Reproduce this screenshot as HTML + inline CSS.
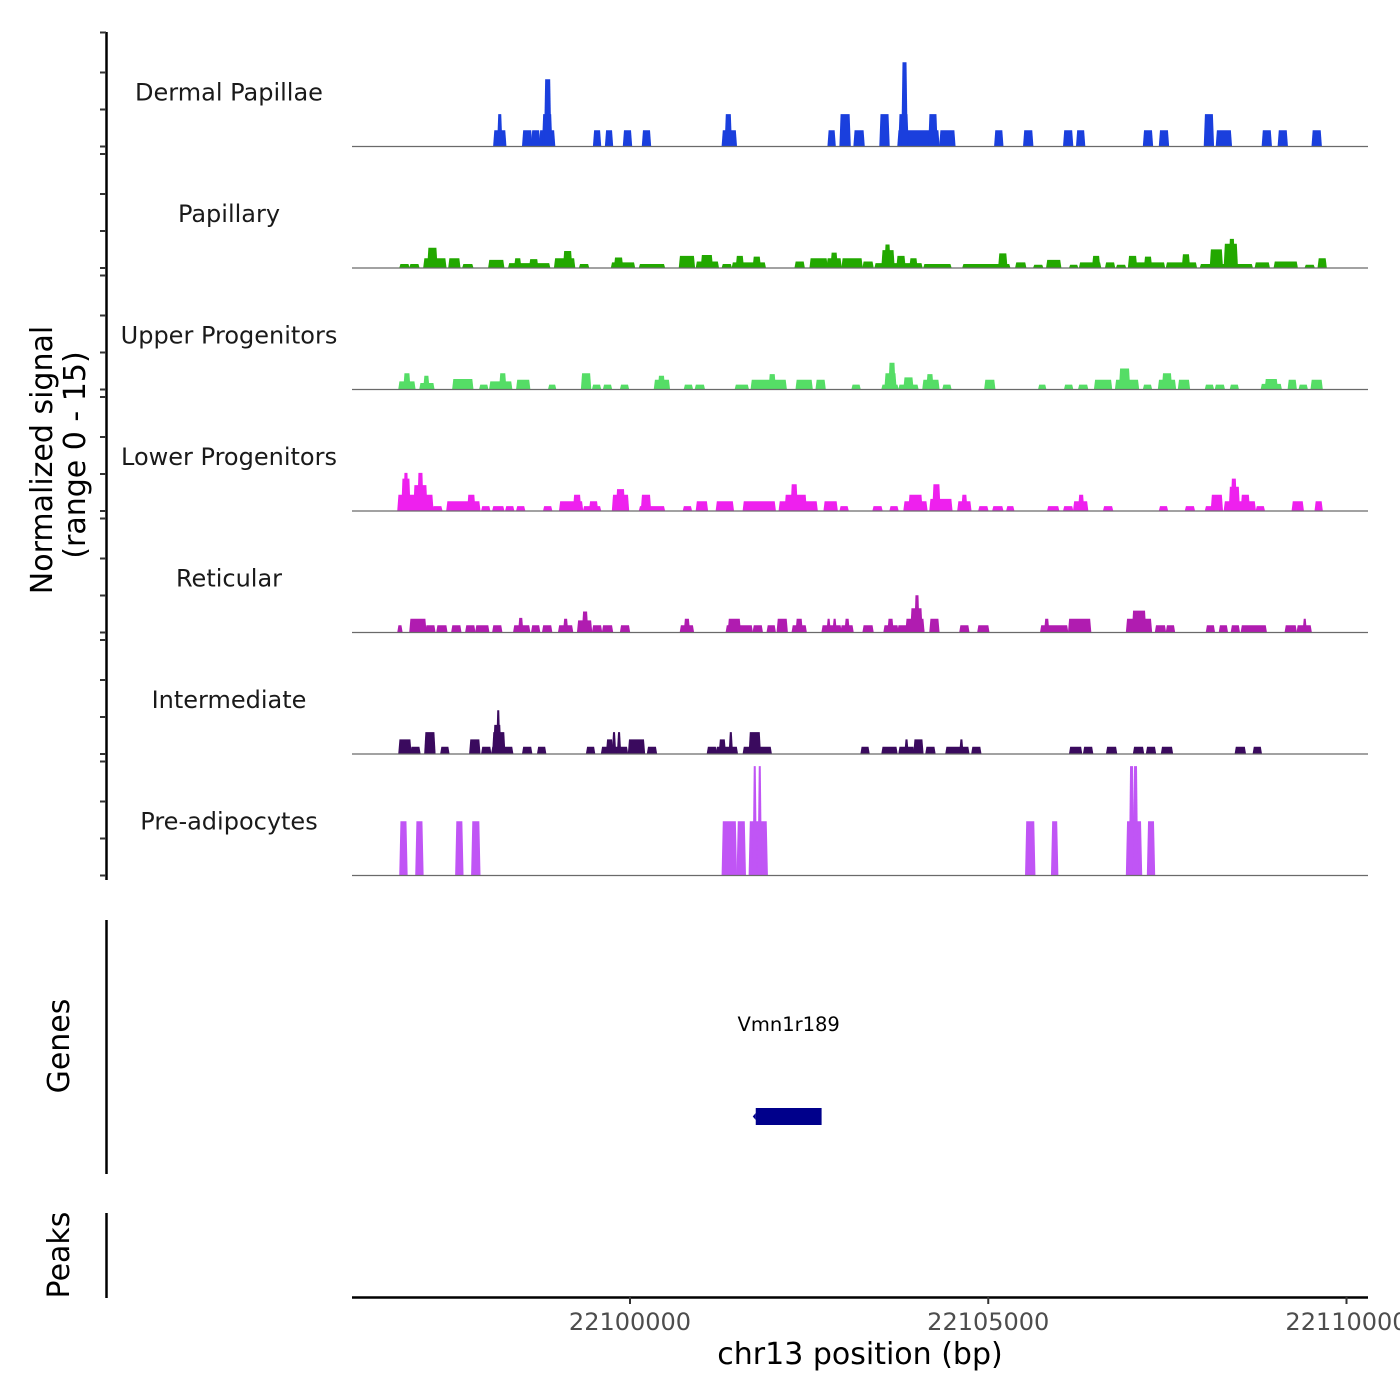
<!DOCTYPE html>
<html><head><meta charset="utf-8"><style>
html,body{margin:0;padding:0;background:#fff;}
svg{display:block;font-family:"DejaVu Sans","Liberation Sans",sans-serif;}
</style></head><body>
<svg id="chart" width="1400" height="1400" viewBox="0 0 1400 1400" xmlns="http://www.w3.org/2000/svg">
<g id="tracks"></g>
<g id="axes">
 <text transform="translate(52,460) rotate(-90)" text-anchor="middle" font-size="30" fill="#000">Normalized signal</text>
 <text transform="translate(85,455) rotate(-90)" text-anchor="middle" font-size="30" fill="#000">(range 0 - 15)</text>
 <line x1="106.5" y1="920" x2="106.5" y2="1174" stroke="#000" stroke-width="2.5"/>
 <text transform="translate(69,1046) rotate(-90)" text-anchor="middle" font-size="30" fill="#000">Genes</text>
 <line x1="106.5" y1="1213" x2="106.5" y2="1298" stroke="#000" stroke-width="2.5"/>
 <text transform="translate(69,1255) rotate(-90)" text-anchor="middle" font-size="30" fill="#000">Peaks</text>
 <line x1="352" y1="1297.5" x2="1368" y2="1297.5" stroke="#000" stroke-width="2.5"/>
 <text x="860" y="1364" text-anchor="middle" font-size="30" fill="#000">chr13 position (bp)</text>
</g>
<g id="genes"></g>
</svg>
<script>
const ORIGIN = 22100000;           // bp origin for kb offsets
const xTicks = [22100000, 22105000, 22110000];
const trackNames = ["Dermal Papillae","Papillary","Upper Progenitors","Lower Progenitors","Reticular","Intermediate","Pre-adipocytes"];
const trackColors = ["#1a3fdd","#22a800","#55dd66","#ee20ee","#b01cb0","#3a0a5e","#c055f5"];
// Each track: peak start (kb offset from ORIGIN), end (kb offset), value (0-15 scale)
const dpStart=[-1.894,-1.839,-1.491,-1.365,-1.254,-1.212,-1.184,-0.501,-0.334,-0.084,0.181,1.295,1.337,2.772,2.939,3.134,3.496,3.747,3.761,3.803,4.179,4.332,5.098,5.502,6.060,6.241,7.174,7.397,8.024,8.191,8.832,9.055,9.528];
const dpEnd=[-1.741,-1.797,-1.379,-1.268,-1.059,-1.100,-1.114,-0.418,-0.251,0.014,0.279,1.477,1.407,2.856,3.065,3.260,3.608,4.304,3.873,3.859,4.277,4.527,5.196,5.614,6.171,6.338,7.285,7.508,8.135,8.386,8.943,9.166,9.640];
const dpVal=[2,4,2,2,2,4,8.3,2,2,2,2,2,4,2,4,2,4,2,4,10.4,4,2,2,2,2,2,2,2,4,2,2,2,2];
const papStart=[-3.204,-3.065,-2.870,-2.814,-2.521,-2.326,-1.964,-1.686,-1.602,-1.393,-1.045,-0.919,-0.697,-0.251,-0.209,0.139,0.697,0.933,1.003,1.295,1.435,1.491,1.727,2.312,2.521,2.758,2.814,2.967,3.260,3.427,3.524,3.566,3.733,3.914,4.109,4.653,5.154,5.391,5.642,5.823,6.143,6.282,6.464,6.645,6.798,6.965,6.965,7.188,7.494,7.717,7.968,8.107,8.302,8.372,8.734,8.999,9.431,9.612];
const papEnd=[-3.092,-2.953,-2.577,-2.702,-2.382,-2.201,-1.769,-1.128,-1.532,-1.295,-0.780,-0.822,-0.585,0.056,-0.111,0.474,0.892,1.226,1.142,1.407,1.881,1.574,1.811,2.424,2.744,2.939,2.884,3.232,3.385,4.068,3.678,3.622,3.831,3.998,4.472,5.293,5.252,5.516,5.753,6.004,6.241,6.561,6.547,6.756,6.909,7.453,7.063,7.271,7.898,7.801,8.678,8.260,8.469,8.428,8.915,9.305,9.542,9.709];
const papVal=[0.5,0.5,1.2,2.5,1.2,0.5,1,0.6,1.2,1.1,1.2,2.1,0.5,0.7,1.3,0.5,1.5,0.8,1.6,0.5,0.7,1.5,1.4,0.8,1.2,1.2,1.9,1.2,0.8,0.6,2.2,2.9,1.5,1.2,0.5,0.5,1.8,0.7,0.4,1,0.4,0.7,1.5,0.7,0.4,0.7,1.5,1.4,0.7,1.7,0.5,2.3,3,3.6,0.7,0.8,0.4,1.2];
const upStart=[-3.218,-3.148,-2.925,-2.870,-2.466,-2.090,-1.950,-1.811,-1.574,-1.128,-0.669,-0.515,-0.362,-0.125,0.348,0.404,0.766,0.919,1.477,1.699,1.950,2.326,2.605,3.106,3.524,3.566,3.622,3.761,3.831,4.095,4.151,4.374,4.959,5.711,6.073,6.269,6.491,6.784,6.840,7.174,7.383,7.439,7.662,8.038,8.177,8.386,8.818,8.873,9.194,9.347,9.514];
const upEnd=[-3.009,-3.079,-2.744,-2.814,-2.201,-1.992,-1.658,-1.741,-1.407,-1.045,-0.557,-0.418,-0.265,-0.028,0.543,0.474,0.864,1.031,1.644,2.173,2.020,2.535,2.716,3.204,3.733,3.705,3.691,4.012,3.942,4.304,4.221,4.472,5.084,5.795,6.171,6.380,6.714,7.090,6.965,7.271,7.606,7.550,7.801,8.135,8.288,8.483,9.082,9.027,9.291,9.445,9.653];
const upVal=[1,2,0.8,1.7,1.3,0.6,1,2,1.2,0.6,2,0.6,0.6,0.6,1.2,1.7,0.6,0.6,0.6,1.2,1.9,1.2,1.2,0.6,0.6,2,3.3,0.6,1.5,1.2,1.9,0.6,1.2,0.6,0.6,0.6,1.2,1.2,2.6,0.6,1.2,2,1.2,0.6,0.6,0.6,0.7,1.3,1.2,0.6,1.2];
const lpStart=[-3.232,-3.176,-3.148,-3.009,-2.953,-2.744,-2.549,-2.257,-2.062,-1.908,-1.727,-1.574,-1.198,-0.975,-0.780,-0.641,-0.557,-0.237,-0.181,0.139,0.167,0.752,0.933,1.212,1.588,2.090,2.173,2.257,2.716,2.939,3.399,3.636,3.831,3.900,4.193,4.235,4.583,4.639,4.876,5.071,5.266,5.837,6.060,6.199,6.269,6.617,7.397,7.759,8.038,8.121,8.302,8.372,8.400,8.539,8.748,9.250,9.570];
const lpEnd=[-2.758,-3.079,-3.106,-2.842,-2.897,-2.633,-2.103,-2.173,-1.964,-1.769,-1.630,-1.477,-1.100,-0.669,-0.697,-0.418,-0.460,-0.028,-0.084,0.474,0.279,0.850,1.073,1.435,2.020,2.605,2.452,2.326,2.884,3.037,3.510,3.733,4.137,4.068,4.485,4.318,4.750,4.694,4.987,5.196,5.349,5.976,6.171,6.380,6.324,6.728,7.494,7.870,8.121,8.260,8.720,8.497,8.455,8.637,8.846,9.389,9.653];
const lpVal=[2,4,4.7,3.2,4.7,0.6,1.2,2,0.6,0.6,0.6,0.6,0.6,1.2,2,0.6,1.2,2,2.7,0.6,2,0.6,1.2,1.2,1.2,1.2,2,3.3,1.2,0.6,0.6,0.6,1.2,2,1.5,3.3,1.2,2,0.6,0.6,0.6,0.6,0.6,1.2,2,0.6,0.6,0.6,0.6,2,1.2,3,4,2,0.6,1.2,1.2];
const retStart=[-3.232,-3.065,-2.842,-2.688,-2.480,-2.285,-2.145,-1.908,-1.616,-1.546,-1.365,-1.212,-0.989,-0.919,-0.724,-0.655,-0.515,-0.376,-0.125,0.710,0.766,1.351,1.379,1.727,1.922,2.062,2.271,2.326,2.688,2.758,2.842,2.953,3.009,3.260,3.552,3.608,3.747,3.859,3.928,3.984,4.193,4.611,4.862,5.739,5.795,6.129,6.937,7.021,7.341,7.494,8.052,8.233,8.400,8.539,9.152,9.319,9.403];
const retEnd=[-3.190,-2.856,-2.730,-2.563,-2.368,-2.173,-1.978,-1.797,-1.407,-1.504,-1.268,-1.100,-0.808,-0.878,-0.543,-0.599,-0.404,-0.251,-0.014,0.878,0.822,1.699,1.532,1.839,2.020,2.187,2.452,2.396,2.939,2.786,2.870,3.106,3.051,3.385,3.733,3.664,4.095,4.095,4.068,4.026,4.304,4.722,5.001,6.101,5.837,6.422,7.271,7.188,7.466,7.592,8.149,8.330,8.497,8.873,9.291,9.500,9.431];
const retVal=[0.9,1.7,0.9,0.9,0.9,0.9,0.9,0.9,0.9,1.8,0.9,0.9,0.9,1.7,1.5,2.6,0.9,0.9,0.9,0.9,1.7,0.9,1.7,0.9,0.9,1.7,0.9,1.7,0.9,1.7,1.7,0.9,1.7,0.9,0.9,1.7,0.9,1.7,3,4.6,1.7,0.9,0.9,0.9,1.7,1.7,1.7,2.7,0.9,0.9,0.9,0.9,0.9,0.9,0.9,0.9,1.7];
const intStart=[-3.218,-3.051,-2.856,-2.633,-2.229,-2.062,-1.922,-1.908,-1.894,-1.853,-1.491,-1.282,-0.599,-0.390,-0.320,-0.237,-0.167,-0.014,0.251,1.087,1.212,1.254,1.393,1.588,1.672,3.232,3.524,3.761,3.845,3.970,4.137,4.416,4.611,4.778,6.143,6.338,6.659,7.035,7.216,7.425,8.455,8.706];
const intEnd=[-3.065,-2.939,-2.730,-2.535,-2.103,-1.950,-1.644,-1.755,-1.811,-1.825,-1.379,-1.184,-0.501,-0.042,-0.251,-0.209,-0.139,0.195,0.362,1.198,1.491,1.323,1.421,1.964,1.811,3.329,3.719,3.956,3.873,4.081,4.249,4.722,4.639,4.889,6.296,6.450,6.784,7.160,7.327,7.564,8.581,8.804];
const intVal=[1.8,0.9,2.7,0.9,1.8,0.9,0.9,2.7,3.6,5.4,0.9,0.9,0.9,0.9,1.8,2.7,2.7,1.8,0.9,0.9,0.9,1.8,2.7,0.9,2.7,0.9,0.9,0.9,1.8,1.8,0.9,0.9,1.8,0.9,0.9,0.9,0.9,0.9,0.9,0.9,0.9,0.9];
const preStart=[-3.204,-2.981,-2.424,-2.201,1.295,1.504,1.672,1.727,1.797,5.530,5.892,6.937,6.979,7.035,7.230];
const preEnd=[-3.120,-2.897,-2.340,-2.103,1.477,1.602,1.908,1.755,1.825,5.642,5.962,7.132,7.021,7.076,7.313];
const preVal=[6.7,6.7,6.7,6.7,6.7,6.7,6.7,13.5,13.5,6.7,6.7,6.7,13.5,13.5,6.7];
const geneNames=["Vmn1r189"];
const geneStart=[1.755];
const geneEnd=[2.674];

const starts=[dpStart,papStart,upStart,lpStart,retStart,intStart,preStart];
const ends=[dpEnd,papEnd,upEnd,lpEnd,retEnd,intEnd,preEnd];
const vals=[dpVal,papVal,upVal,lpVal,retVal,intVal,preVal];

const NS="http://www.w3.org/2000/svg";
const X0=352, X1=1368, BP0=22096120, BP1=22110300;
function xs(bp){return X0+(bp-BP0)/(BP1-BP0)*(X1-X0);}
function xk(kb){return xs(ORIGIN+kb*1000);}
const base0=146.5, trackStep=121.5, unitPx=8.1;
function ys(i,v){return base0+i*trackStep-v*unitPx;}
function mk(tag,attrs,parent){const e=document.createElementNS(NS,tag);for(const k in attrs)e.setAttribute(k,attrs[k]);parent.appendChild(e);return e;}

const tracks=document.getElementById('tracks');
const axes=document.getElementById('axes');
const yl=mk('line',{x1:106.5,y1:32,x2:106.5,y2:880,stroke:'#000','stroke-width':2.5},axes);


trackNames.forEach((name,i)=>{
  const g=mk('g',{},tracks);
  
  
  const b=ys(i,0);
  [0,37,74,114].forEach(o=>{
    const t=mk('line',{x1:100,x2:106,y1:b-o,y2:b-o,stroke:'#333','stroke-width':2},axes);
    
    
  });
  const lab=mk('text',{x:229,y:b-46,'text-anchor':'middle','font-size':24,fill:'#1a1a1a'},g);
  lab.textContent=name;
  
  
  const S=starts[i],E=ends[i],V=vals[i];
  for(let k=0;k<S.length;k++){
    const a=xk(S[k]),c=xk(E[k]),top=ys(i,V[k]);
    const sl=1.2;
    const p=mk('polygon',{points:`${a-sl},${b} ${a},${top} ${c},${top} ${c+sl},${b}`,fill:trackColors[i]},g);
    
    
  }
  const bl=mk('line',{x1:X0,x2:X1,y1:b,y2:b,stroke:'#6a6a6a','stroke-width':1.2},g);
  
  
});
xTicks.forEach(t=>{
  const x=xs(t);
  const tk=mk('line',{x1:x,x2:x,y1:1297,y2:1304,stroke:'#333','stroke-width':2},axes);
  
  
  const tl=mk('text',{x:x,y:1330,'text-anchor':'middle','font-size':24,fill:'#4d4d4d'},axes);
  tl.textContent=String(t);
  
  
});
const genes=document.getElementById('genes');
geneNames.forEach((n,k)=>{
  const a=xk(geneStart[k]),c=xk(geneEnd[k]);
  const r=mk('rect',{x:a,y:1108,width:c-a,height:17,fill:'#00008b'},genes);
  
  
  const ar=mk('polygon',{points:`${a-3},1116.5 ${a},1113 ${a},1120`,fill:'#00008b'},genes);
  
  
  const gl=mk('text',{x:(a+c)/2,y:1031,'text-anchor':'middle','font-size':19.5,fill:'#000'},genes);
  gl.textContent=n;
  
  
});
</script>
</body></html>
